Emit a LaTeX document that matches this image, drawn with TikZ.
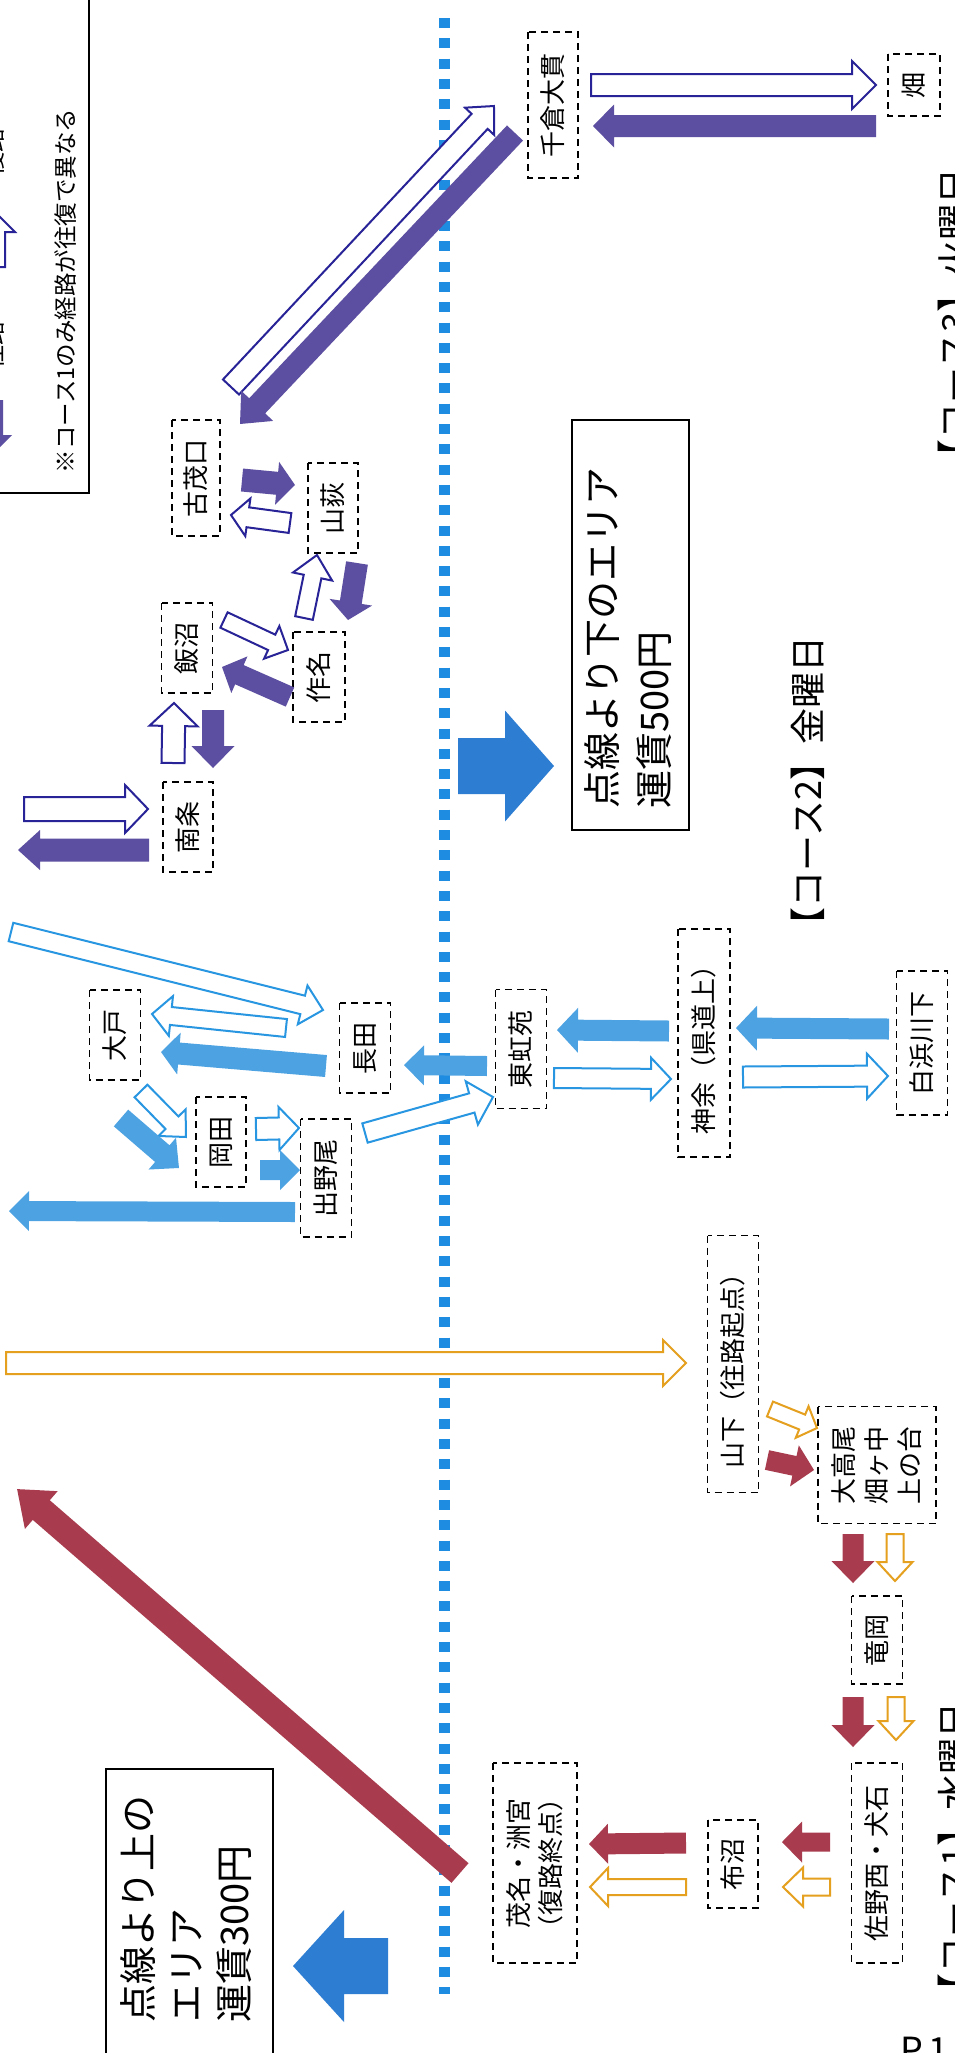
\documentclass[tikz,border=0pt]{standalone}
\usepackage{fontspec}
\setmainfont{Noto Sans CJK JP}
\usetikzlibrary{calc}

\definecolor{purf}{RGB}{92,78,160}
\definecolor{purl}{RGB}{40,35,150}
\definecolor{bluf}{RGB}{77,163,226}
\definecolor{blul}{RGB}{40,150,225}
\definecolor{crim}{RGB}{168,60,78}
\definecolor{oran}{RGB}{228,160,30}
\definecolor{bigb}{RGB}{45,125,210}
\definecolor{dotb}{RGB}{30,140,225}

% block arrow: style, from, to, shaft width, head width, head length
\newcommand\barrow[6]{%
  \pgfpointdiff{\pgfpointanchor{#2}{center}}{\pgfpointanchor{#3}{center}}%
  \pgfgetlastxy{\bdx}{\bdy}%
  \pgfmathsetmacro\bang{atan2(\bdy,\bdx)}%
  \pgfmathsetmacro\blen{veclen(\bdx,\bdy)}%
  \begin{scope}[shift={(#2)},rotate=\bang]
    \path[#1] (0,-#4/2) -- ({\blen-#6},-#4/2) -- ({\blen-#6},-#5/2) -- (\blen,0)
      -- ({\blen-#6},#5/2) -- ({\blen-#6},#4/2) -- (0,#4/2) -- cycle;
  \end{scope}}

\tikzset{
  hol/.style={draw=#1, line width=2pt, fill=white, line join=miter},
  fil/.style={fill=#1},
  stn/.style={draw, dash pattern=on 7pt off 5pt, line width=1.6pt, rotate=90,
    inner sep=0pt, align=center, font=\fontsize{26}{30}\selectfont},
  lbl/.style={rotate=90, inner sep=0pt, align=left},
  areabox/.style={draw, line width=1.5pt, inner sep=0pt},
  dotline/.style={draw=dotb, line width=11pt, dash pattern=on 10pt off 10.3pt},
}

\begin{document}
\begin{tikzpicture}[x=1pt,y=1pt]
\useasboundingbox (0,0) rectangle (954,-2053);
\fill[white] (0,0) rectangle (954,-2053);

% dotted boundary
\coordinate (dtop) at (444,-18);
\coordinate (dbot) at (444,-1994);
\path[dotline] (dtop) -- (dbot);

% legend (cut off)
\node[areabox, minimum width=99pt, minimum height=503pt] (legend) at (39.5,-241.5) {};
\node[lbl, font=\fontsize{23.5}{28}\selectfont] (legtxt) at (66,-291) {※コース1のみ経路が往復で異なる};
\node[lbl, font=\fontsize{24}{28}\selectfont] (legout) at (-7,-345) {往路};
\node[lbl, font=\fontsize{24}{28}\selectfont] (legret) at (-7,-152) {復路};
\coordinate (l1s) at (-7,-267); \coordinate (l1e) at (-7,-210);
\barrow{hol=purl}{l1s}{l1e}{24}{44}{22}
\coordinate (l2s) at (-8,-400); \coordinate (l2e) at (-8,-455);
\barrow{fil=purf}{l2s}{l2e}{22}{40}{20}

% area boxes
\node[areabox, minimum width=117pt, minimum height=410pt] (box500) at (630.5,-625) {};
\node[lbl, anchor=west, font=\fontsize{38}{52}\selectfont] (t500) at (628,-809) {点線より下のエリア\\運賃500円};
\node[areabox, minimum width=167pt, minimum height=290pt] (box300) at (189.5,-1914) {};
\node[lbl, anchor=west, font=\fontsize{38}{48}\selectfont] (t300) at (186,-2023) {点線より上の\\エリア\\運賃300円};

% course labels
\node[lbl, font=\fontsize{36}{40}\selectfont] (c2lab) at (808,-790) {【コース2】金曜日};
\node[lbl, font=\fontsize{36}{40}\selectfont] (c3lab) at (955,-322) {【コース3】火曜日};
\node[lbl, font=\fontsize{36}{40}\selectfont] (c1lab) at (955,-1856) {【コース1】水曜日};
\node[anchor=north west, inner sep=0pt, font=\fontsize{36}{40}\selectfont] (page) at (900,-2037) {P.1};

% stations
\node[stn, minimum width=146pt, minimum height=50pt] (chikura) at (553,-105) {千倉大貫};
\node[stn, minimum width=62pt, minimum height=52pt] (hata) at (914,-85) {畑};
\node[stn, minimum width=116pt, minimum height=48pt] (komo) at (196,-478) {古茂口};
\node[stn, minimum width=90pt, minimum height=50pt] (yamaogi) at (333,-508) {山荻};
\node[stn, minimum width=90pt, minimum height=51pt] (iinuma) at (187,-648) {飯沼};
\node[stn, minimum width=90pt, minimum height=52pt] (sakuna) at (319,-677) {作名};
\node[stn, minimum width=90pt, minimum height=50pt] (nanjo) at (188,-827) {南条};
\node[stn, minimum width=90pt, minimum height=51pt] (oto) at (115,-1035) {大戸};
\node[stn, minimum width=90pt, minimum height=51pt] (nagata) at (365,-1048) {長田};
\node[stn, minimum width=119pt, minimum height=51pt] (tokoen) at (521,-1049) {東虹苑};
\node[stn, minimum width=90pt, minimum height=50pt] (okada) at (221,-1142) {岡田};
\node[stn, minimum width=118pt, minimum height=51pt] (denoo) at (326,-1178) {出野尾};
\node[stn, minimum width=228pt, minimum height=52pt] (kanamari) at (704,-1043) {神余（県道上）};
\node[stn, minimum width=144pt, minimum height=51pt] (shirahama) at (922,-1043) {白浜川下};
\node[stn, minimum width=257pt, minimum height=51pt] (yamashita) at (733,-1364) {山下（往路起点）};
\node[stn, minimum width=117pt, minimum height=118pt, font=\fontsize{26}{33}\selectfont] (otakao) at (877,-1465) {大高尾\\畑ヶ中\\上の台};
\node[stn, minimum width=88pt, minimum height=51pt] (tatsuoka) at (877,-1640) {竜岡};
\node[stn, minimum width=200pt, minimum height=51pt] (sanonishi) at (877,-1863) {佐野西・犬石};
\node[stn, minimum width=88pt, minimum height=50pt] (nunuma) at (733,-1864) {布沼};
\node[stn, minimum width=200pt, minimum height=84pt, font=\fontsize{26}{32}\selectfont] (mona) at (535,-1863) {茂名・洲宮\\（復路終点）};

% ---- course 3 (purple)
\coordinate (p1s) at (591,-85);   \coordinate (p1e) at (876,-85);
\barrow{hol=purl}{p1s}{p1e}{22}{48}{24}
\coordinate (p2s) at (876,-126);  \coordinate (p2e) at (593,-126);
\barrow{fil=purf}{p2s}{p2e}{22}{43}{21}
\coordinate (p3s) at (231,-387);  \coordinate (p3e) at (494,-106);
\barrow{hol=purl}{p3s}{p3e}{22}{40}{21}
\coordinate (p4s) at (515,-133);  \coordinate (p4e) at (240,-424);
\barrow{fil=purf}{p4s}{p4e}{22}{44}{25}
\coordinate (p5s) at (242,-480);  \coordinate (p5e) at (295,-485);
\barrow{fil=purf}{p5s}{p5e}{23}{43}{18}
\coordinate (p6s) at (290,-523);  \coordinate (p6e) at (231,-515);
\barrow{hol=purl}{p6s}{p6e}{20}{38}{17}
\coordinate (p7s) at (304,-618);  \coordinate (p7e) at (317,-555);
\barrow{hol=purl}{p7s}{p7e}{18}{40}{22}
\coordinate (p8s) at (357,-563);  \coordinate (p8e) at (348,-620);
\barrow{fil=purf}{p8s}{p8e}{22}{43}{18}
\coordinate (p9s) at (224,-620);  \coordinate (p9e) at (288,-650);
\barrow{hol=purl}{p9s}{p9e}{17}{36}{18}
\coordinate (p10s) at (290,-697); \coordinate (p10e) at (222,-667);
\barrow{fil=purf}{p10s}{p10e}{21}{40}{19}
\coordinate (p11s) at (173,-763); \coordinate (p11e) at (174,-703);
\barrow{hol=purl}{p11s}{p11e}{23}{48}{23}
\coordinate (p12s) at (213,-710); \coordinate (p12e) at (213,-768);
\barrow{fil=purf}{p12s}{p12e}{22}{43}{22}
\coordinate (p13s) at (24,-809);  \coordinate (p13e) at (148,-809);
\barrow{hol=purl}{p13s}{p13e}{24}{48}{23}
\coordinate (p14s) at (149,-850); \coordinate (p14e) at (18,-850);
\barrow{fil=purf}{p14s}{p14e}{23}{40}{22}

% ---- big area arrows
\coordinate (b1s) at (458,-766);  \coordinate (b1e) at (554,-766);
\barrow{fil=bigb}{b1s}{b1e}{56}{111}{49}
\coordinate (b2s) at (388,-1966); \coordinate (b2e) at (293,-1966);
\barrow{fil=bigb}{b2s}{b2e}{56}{112}{51}

% ---- course 2 (blue)
\coordinate (c1s) at (11,-932);   \coordinate (c1e) at (323,-1010);
\barrow{hol=blul}{c1s}{c1e}{19}{40}{21}
\coordinate (c2s) at (286,-1028); \coordinate (c2e) at (152,-1014);
\barrow{hol=blul}{c2s}{c2e}{18}{40}{19}
\coordinate (c3s) at (326,-1066); \coordinate (c3e) at (161,-1052);
\barrow{fil=bluf}{c3s}{c3e}{22}{42}{18}
\coordinate (c4s) at (141,-1091); \coordinate (c4e) at (186,-1137);
\barrow{hol=blul}{c4s}{c4e}{18}{38}{20}
\coordinate (c5s) at (121,-1118); \coordinate (c5e) at (179,-1168);
\barrow{fil=bluf}{c5s}{c5e}{22}{42}{22}
\coordinate (c6s) at (256,-1129); \coordinate (c6e) at (299,-1128);
\barrow{hol=blul}{c6s}{c6e}{22}{43}{20}
\coordinate (c7s) at (260,-1170); \coordinate (c7e) at (300,-1170);
\barrow{fil=bluf}{c7s}{c7e}{20}{40}{20}
\coordinate (c8s) at (295,-1212); \coordinate (c8e) at (9,-1211);
\barrow{fil=bluf}{c8s}{c8e}{20}{40}{20}
\coordinate (c9s) at (365,-1133); \coordinate (c9e) at (493,-1097);
\barrow{hol=blul}{c9s}{c9e}{20}{45}{22}
\coordinate (c10s) at (487,-1066); \coordinate (c10e) at (404,-1065);
\barrow{fil=bluf}{c10s}{c10e}{20}{40}{20}
\coordinate (c11s) at (669,-1031); \coordinate (c11e) at (557,-1030);
\barrow{fil=bluf}{c11s}{c11e}{21}{45}{21}
\coordinate (c12s) at (554,-1078); \coordinate (c12e) at (671,-1079);
\barrow{hol=blul}{c12s}{c12e}{20}{42}{20}
\coordinate (c13s) at (889,-1029); \coordinate (c13e) at (736,-1028);
\barrow{fil=bluf}{c13s}{c13e}{21}{45}{21}
\coordinate (c14s) at (743,-1077); \coordinate (c14e) at (888,-1076);
\barrow{hol=blul}{c14s}{c14e}{21}{45}{21}

% ---- course 1 (crimson / orange)
\coordinate (o1s) at (6,-1363);   \coordinate (o1e) at (686,-1363);
\barrow{hol=oran}{o1s}{o1e}{22}{46}{23}
\coordinate (o2s) at (770,-1409); \coordinate (o2e) at (817,-1428);
\barrow{hol=oran}{o2s}{o2e}{16}{34}{16}
\coordinate (o3s) at (767,-1460); \coordinate (o3e) at (814,-1470);
\barrow{fil=crim}{o3s}{o3e}{20}{42}{20}
\coordinate (o4s) at (853,-1534); \coordinate (o4e) at (853,-1583);
\barrow{fil=crim}{o4s}{o4e}{21}{43}{22}
\coordinate (o5s) at (895,-1534); \coordinate (o5e) at (895,-1581);
\barrow{hol=oran}{o5s}{o5e}{17}{35}{19}
\coordinate (o6s) at (853,-1697); \coordinate (o6e) at (853,-1747);
\barrow{fil=crim}{o6s}{o6e}{21}{43}{22}
\coordinate (o7s) at (896,-1697); \coordinate (o7e) at (896,-1740);
\barrow{hol=oran}{o7s}{o7e}{17}{35}{19}
\coordinate (o8s) at (830,-1842); \coordinate (o8e) at (782,-1842);
\barrow{fil=crim}{o8s}{o8e}{19}{41}{20}
\coordinate (o9s) at (830,-1887); \coordinate (o9e) at (783,-1887);
\barrow{hol=oran}{o9s}{o9e}{17}{39}{20}
\coordinate (o10s) at (686,-1843); \coordinate (o10e) at (589,-1844);
\barrow{fil=crim}{o10s}{o10e}{21}{40}{19}
\coordinate (o11s) at (686,-1887); \coordinate (o11e) at (590,-1887);
\barrow{hol=oran}{o11s}{o11e}{16}{38}{18}
\coordinate (o12s) at (460,-1873); \coordinate (o12e) at (17,-1489);
\barrow{fil=crim}{o12s}{o12e}{26}{50}{32}

\end{tikzpicture}
\end{document}
